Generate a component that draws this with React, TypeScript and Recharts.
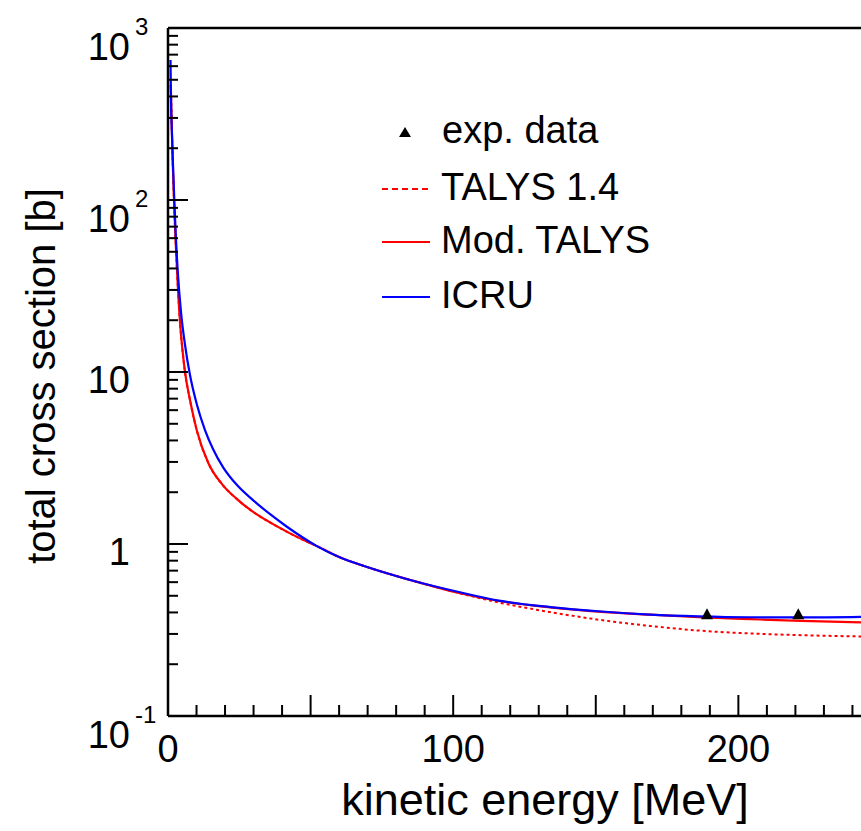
import React from 'react';
import { ComposedChart, Line, Scatter, XAxis, YAxis, ReferenceLine, Legend, Label } from 'recharts';

// values (energy in MeV, cross section in b)
const icruE = [0.88, 1.05, 1.4, 1.75, 2.28, 2.81, 3.51, 4.56, 5.96, 7.71, 10.17, 12.97, 15.78, 19.28, 24.19, 29.8, 35.8, 41.7, 52.2, 60, 69.8, 84.9, 102, 116, 134, 152, 169, 186, 204, 222, 243];
const icruV = [652, 381, 239, 160, 93.5, 58.5, 36.6, 22.3, 14.4, 9.6, 6.43, 4.6, 3.57, 2.8, 2.2, 1.8, 1.49, 1.26, 0.972, 0.84, 0.735, 0.618, 0.526, 0.469, 0.43, 0.405, 0.389, 0.38, 0.375, 0.374, 0.377];

const modE = [0.98, 1.23, 1.58, 2.1, 2.63, 3.33, 4.21, 5.08, 5.96, 7.71, 10.06, 14.13, 18.93, 24.09, 30.5, 38.1, 45.2, 52.2, 60, 69.8, 84.9, 102, 116, 134, 152, 169, 186, 204, 222, 243];
const modV = [466, 312, 183, 100, 60.1, 34.3, 19.5, 13.4, 10, 6.87, 4.6, 2.96, 2.23, 1.83, 1.51, 1.27, 1.1, 0.972, 0.84, 0.735, 0.618, 0.519, 0.466, 0.428, 0.403, 0.388, 0.376, 0.366, 0.357, 0.35];

const talysE = [0.98, 1.23, 1.58, 2.1, 2.63, 3.33, 4.21, 5.08, 5.96, 7.71, 10.06, 14.13, 18.93, 24.09, 30.5, 38.1, 45.2, 52.2, 60, 69.8, 84.9, 102, 116, 134, 152, 169, 186, 204, 222, 243];
const talysV = [466, 312, 183, 100, 60.1, 34.3, 19.5, 13.4, 10, 6.87, 4.6, 2.96, 2.23, 1.83, 1.51, 1.27, 1.1, 0.972, 0.84, 0.735, 0.618, 0.519, 0.457, 0.402, 0.361, 0.334, 0.314, 0.302, 0.295, 0.29];

const expE = [189, 221];
const expV = [0.39, 0.39];

const legendOrder = ['exp. data', 'TALYS 1.4', 'Mod. TALYS', 'ICRU'];
const xTicks = [0, 10, 20, 30, 40, 50, 60, 70, 80, 90, 100, 110, 120, 130, 140, 150, 160, 170, 180, 190, 200, 210, 220, 230, 240];
const xLabels = [0, 100, 200];
const yDecades = [0.1, 1, 10, 100, 1000];

const zip = (e: number[], v: number[]) => e.map((x, i) => ({ e: x, v: v[i] }));
const icru = zip(icruE, icruV);
const modTalys = zip(modE, modV);
const talys = zip(talysE, talysV);
const exp = zip(expE, expV);

const yTicks: number[] = [];
yDecades.forEach((d, i) => {
  if (i === yDecades.length - 1) { yTicks.push(d); return; }
  for (let k = 1; k < 10; k++) yTicks.push(d * k);
});

const FONT = 'Liberation Sans, Arial, sans-serif';

const XTick = (props: any) => {
  const { x, y, payload } = props;
  const v = payload.value;
  const len = v % 50 === 0 ? 21 : 11;
  return (
    <g>
      <line x1={x} y1={y} x2={x} y2={y - len} stroke="#000" strokeWidth={2} />
      {xLabels.includes(v) && (
        <text x={x} y={y + 46} textAnchor="middle" fontSize={38} fontFamily={FONT} fill="#000">{v}</text>
      )}
    </g>
  );
};

const YTick = (props: any) => {
  const { x, y, payload } = props;
  const v = payload.value;
  const lg = Math.log10(v);
  const p = Math.round(lg);
  const major = Math.abs(lg - p) < 1e-6;
  let label = null;
  if (major) {
    if (p === 0 || p === 1) {
      label = <text x={x - 38} y={y + 21} textAnchor="end" fontSize={38} fontFamily={FONT} fill="#000">{p === 0 ? '1' : '10'}</text>;
    } else {
      label = (
        <g fontFamily={FONT} fill="#000">
          <text x={x - 38} y={y + 32} textAnchor="end" fontSize={38}>10</text>
          <text x={x - 33} y={y + 7} textAnchor="start" fontSize={24}>{p}</text>
        </g>
      );
    }
  }
  return (
    <g>
      <line x1={x} y1={y} x2={x + (major ? 20 : 10)} y2={y} stroke="#000" strokeWidth={2} />
      {label}
    </g>
  );
};

const renderLegend = (props: any) => {
  const payload = [...(props.payload || [])].sort(
    (a: any, b: any) => legendOrder.indexOf(a.value) - legendOrder.indexOf(b.value)
  );
  const rows = [32, 89, 142, 197];
  return (
    <svg width={320} height={230} style={{ overflow: 'visible' }}>
      {payload.map((p: any, i: number) => {
        const cy = rows[i];
        const isTri = p.type === 'triangle';
        return (
          <g key={p.value}>
            {isTri ? (
              <polygon points={`${45 - 6},${cy + 5} ${45 + 6},${cy + 5} ${45},${cy - 5}`} fill="#000" />
            ) : (
              <line x1={22} x2={70} y1={cy} y2={cy} stroke={p.color} strokeWidth={2.2}
                strokeDasharray={p.payload && p.payload.strokeDasharray ? '6 4' : undefined} />
            )}
            <text x={isTri ? 82 : 81} y={cy + 11} fontSize={38} fontFamily={FONT} fill="#000">{p.value}</text>
          </g>
        );
      })}
    </svg>
  );
};

const Triangle = (props: any) => {
  const { cx, cy } = props;
  return <polygon points={`${cx - 6},${cy + 5} ${cx + 6},${cy + 5} ${cx},${cy - 6}`} fill="#000" />;
};

export default function App() {
  return (
    <div style={{ position: 'absolute', left: 0, top: 0, background: '#fff' }}>
      <ComposedChart width={861} height={831} margin={{ top: 28, right: 0, bottom: 0, left: 0 }}>
        <XAxis
          type="number"
          dataKey="e"
          domain={[0, 243]}
          allowDataOverflow
          ticks={xTicks}
          interval={0}
          tickSize={0}
          tickMargin={0}
          tick={<XTick />}
          height={115}
          axisLine={{ stroke: '#000', strokeWidth: 2.5 }}
        >
          <Label
            content={() => (
              <text x={545} y={815} textAnchor="middle" fontSize={45} fontFamily={FONT} fill="#000">kinetic energy [MeV]</text>
            )}
          />
        </XAxis>
        <YAxis
          type="number"
          dataKey="v"
          scale="log"
          domain={[0.1, 1000]}
          allowDataOverflow
          ticks={yTicks}
          interval={0}
          tickSize={0}
          tickMargin={0}
          tick={<YTick />}
          width={168}
          axisLine={{ stroke: '#000', strokeWidth: 2.5 }}
        >
          <Label
            content={() => (
              <text transform="translate(55,376) rotate(-90)" textAnchor="middle" fontSize={40} fontFamily={FONT} fill="#000">total cross section [b]</text>
            )}
          />
        </YAxis>
        <ReferenceLine y={1000} stroke="#000" strokeWidth={2.5} />
        <Legend
          layout="vertical"
          align="center"
          verticalAlign="middle"
          content={renderLegend}
          wrapperStyle={{ left: 360, top: 100, width: 320, height: 230 }}
        />
        <Scatter name="exp. data" data={exp} dataKey="v" legendType="triangle" fill="#000" shape={<Triangle />} isAnimationActive={false} />
        <Line name="TALYS 1.4" data={talys} dataKey="v" type="monotone" stroke="#ff0000" strokeWidth={2} strokeDasharray="3 3" dot={false} legendType="line" isAnimationActive={false} />
        <Line name="Mod. TALYS" data={modTalys} dataKey="v" type="monotone" stroke="#ff0000" strokeWidth={2.2} dot={false} legendType="line" isAnimationActive={false} />
        <Line name="ICRU" data={icru} dataKey="v" type="monotone" stroke="#0000ff" strokeWidth={2.2} dot={false} legendType="line" isAnimationActive={false} />
      </ComposedChart>
    </div>
  );
}
